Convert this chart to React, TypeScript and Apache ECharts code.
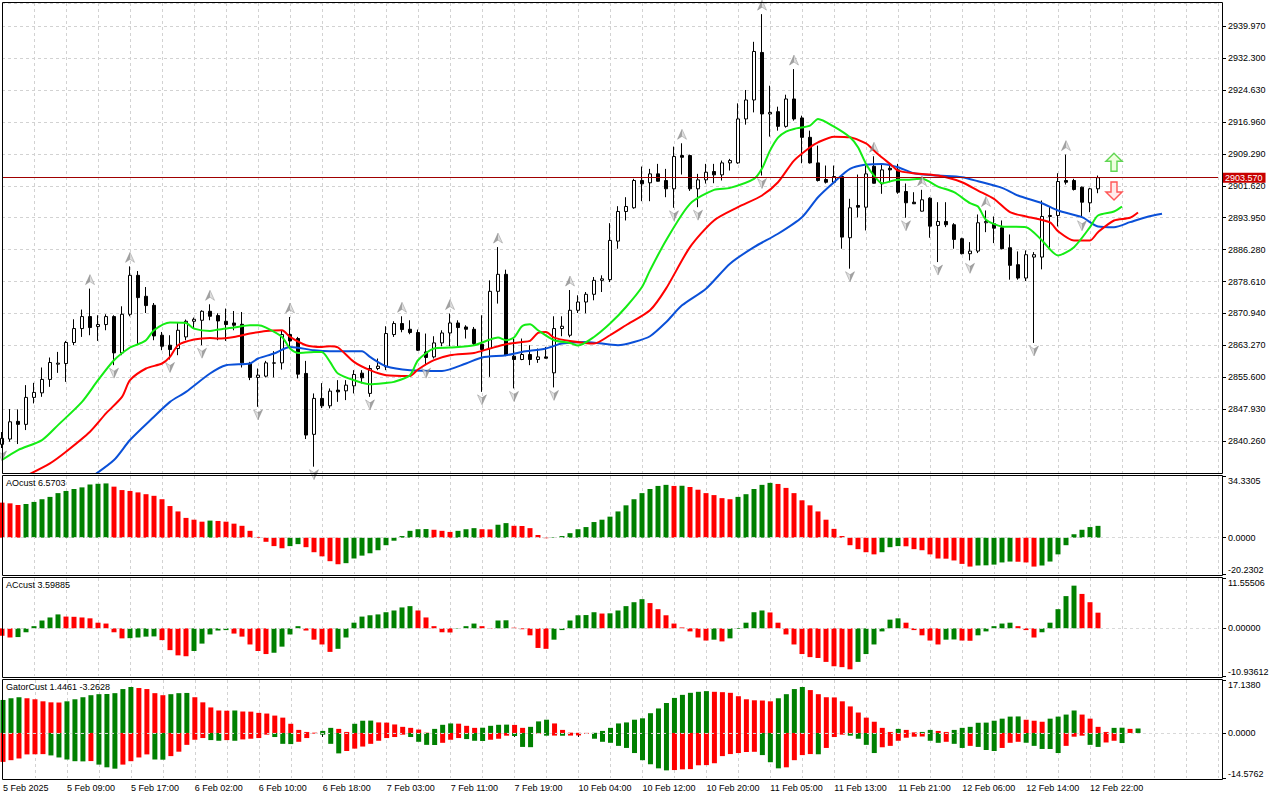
import React, { useEffect, useRef } from 'react';
import * as echarts from 'echarts';

// ---------- DATA ----------
const xLabels = [
  '5 Feb 2025', '5 Feb 09:00', '5 Feb 17:00', '6 Feb 02:00', '6 Feb 10:00', '6 Feb 18:00',
  '7 Feb 03:00', '7 Feb 11:00', '7 Feb 19:00', '10 Feb 04:00', '10 Feb 12:00', '10 Feb 20:00',
  '11 Feb 05:00', '11 Feb 13:00', '11 Feb 21:00', '12 Feb 06:00', '12 Feb 14:00', '12 Feb 22:00',
];
const slotCount = 153;
const labelStep = 8;

const opens = [
  2839.48, 2840.75, 2845.00, 2844.28, 2850.76, 2851.86, 2855.08, 2858.75, 2858.91, 2863.95,
  2867.31, 2870.19, 2867.79, 2868.27, 2870.19, 2861.46, 2870.74, 2880.10, 2875.06, 2872.90,
  2865.70, 2863.30, 2862.51, 2865.30, 2869.06, 2869.30, 2871.46, 2870.43, 2869.06, 2868.65,
  2868.34, 2858.91, 2855.56, 2855.87, 2858.99, 2859.06, 2865.87, 2864.91, 2856.52, 2841.88,
  2850.52, 2848.74, 2852.51, 2852.34, 2853.54, 2856.59, 2851.72, 2857.71, 2858.10, 2865.87,
  2868.51, 2867.14, 2866.35, 2861.70, 2860.50, 2863.86, 2866.25, 2868.65, 2867.69, 2867.14,
  2863.54, 2862.51, 2876.26, 2880.34, 2860.67, 2859.87, 2861.07, 2859.87, 2860.50, 2856.66,
  2867.31, 2865.70, 2871.70, 2873.69, 2875.54, 2878.90, 2879.07, 2888.33, 2895.45, 2896.34,
  2902.89, 2902.34, 2904.49, 2902.89, 2900.90, 2908.89, 2908.89, 2900.90, 2903.05, 2905.05,
  2904.25, 2907.13, 2907.13, 2917.69, 2922.25, 2933.67, 2918.89, 2919.44, 2915.91, 2922.49,
  2917.93, 2913.27, 2907.13, 2903.13, 2902.48, 2903.85, 2889.14, 2896.89, 2896.48, 2906.32,
  2902.10, 2905.84, 2905.45, 2900.25, 2897.68, 2895.52, 2898.64, 2892.09, 2893.05, 2892.26,
  2888.90, 2885.30, 2885.93, 2892.74, 2892.50, 2891.54, 2886.74, 2882.66, 2879.45, 2884.49,
  2884.49, 2894.25, 2894.49, 2902.89, 2902.89, 2901.28, 2897.54, 2900.90,
];
const highs = [
  2842.43, 2847.95, 2847.88, 2853.71, 2854.26, 2857.95, 2860.35, 2861.70, 2864.34, 2869.54,
  2871.87, 2876.91, 2870.50, 2870.74, 2870.50, 2872.66, 2882.26, 2881.13, 2877.29, 2873.45,
  2866.49, 2865.70, 2868.89, 2869.47, 2869.95, 2871.70, 2873.14, 2870.98, 2872.11, 2871.53,
  2871.29, 2859.30, 2857.71, 2859.54, 2861.87, 2866.90, 2870.09, 2865.30, 2859.54, 2851.72,
  2854.19, 2852.92, 2854.91, 2854.91, 2857.31, 2857.31, 2858.51, 2860.11, 2867.86, 2869.06,
  2870.26, 2869.30, 2867.07, 2866.11, 2865.46, 2866.90, 2870.91, 2869.30, 2868.10, 2867.69,
  2870.50, 2878.90, 2886.89, 2881.46, 2864.91, 2864.91, 2863.30, 2862.51, 2862.90, 2870.26,
  2870.26, 2876.57, 2875.30, 2876.09, 2879.69, 2880.10, 2892.64, 2896.72, 2898.88, 2903.30,
  2906.25, 2905.69, 2906.89, 2905.69, 2911.04, 2911.84, 2909.12, 2904.49, 2906.89, 2906.89,
  2907.69, 2908.09, 2921.43, 2924.65, 2936.23, 2942.88, 2925.68, 2920.64, 2923.52, 2929.68,
  2918.48, 2914.88, 2911.29, 2906.49, 2906.49, 2904.09, 2898.50, 2904.33, 2906.49, 2908.72,
  2906.89, 2907.04, 2906.89, 2902.17, 2900.08, 2900.66, 2898.88, 2897.68, 2897.68, 2892.64,
  2889.14, 2888.09, 2894.73, 2895.69, 2894.25, 2893.29, 2889.93, 2885.85, 2886.09, 2885.69,
  2898.09, 2896.65, 2904.64, 2909.12, 2903.30, 2901.45, 2901.14, 2904.09,
];
const lows = [
  2838.59, 2840.11, 2839.55, 2842.91, 2849.32, 2850.90, 2853.30, 2856.66, 2854.50, 2863.30,
  2865.30, 2865.70, 2864.34, 2866.90, 2858.51, 2860.91, 2870.26, 2863.54, 2871.05, 2864.50,
  2862.10, 2859.87, 2860.91, 2864.50, 2867.38, 2863.30, 2869.30, 2864.50, 2864.34, 2866.90,
  2857.95, 2854.91, 2848.50, 2855.56, 2855.56, 2857.47, 2862.90, 2855.32, 2840.75, 2834.11,
  2848.19, 2848.12, 2849.70, 2850.11, 2851.72, 2854.12, 2850.90, 2857.31, 2857.31, 2865.30,
  2866.42, 2865.94, 2861.94, 2858.51, 2860.11, 2863.06, 2863.06, 2863.06, 2864.91, 2863.30,
  2852.10, 2855.70, 2873.31, 2860.67, 2852.92, 2859.71, 2858.51, 2859.06, 2860.11, 2853.16,
  2865.46, 2865.22, 2871.05, 2870.98, 2874.10, 2876.09, 2878.49, 2886.50, 2893.29, 2896.10,
  2897.92, 2897.92, 2902.65, 2898.88, 2896.34, 2904.33, 2900.40, 2896.48, 2902.17, 2902.24,
  2902.89, 2905.29, 2906.90, 2916.32, 2919.27, 2904.09, 2913.44, 2914.88, 2915.60, 2917.28,
  2907.04, 2906.97, 2902.65, 2902.17, 2902.17, 2886.50, 2881.70, 2894.01, 2890.89, 2902.17,
  2899.70, 2902.48, 2899.70, 2893.94, 2897.25, 2895.45, 2889.14, 2883.29, 2891.69, 2886.50,
  2885.14, 2883.70, 2885.45, 2890.48, 2887.85, 2886.33, 2879.06, 2879.06, 2878.73, 2863.85,
  2881.54, 2886.74, 2891.85, 2901.93, 2900.49, 2893.94, 2895.28, 2899.84,
];
const closes = [
  2840.92, 2844.90, 2844.28, 2850.76, 2851.96, 2855.08, 2859.15, 2858.99, 2863.95, 2867.31,
  2870.19, 2867.55, 2868.27, 2870.19, 2861.46, 2870.74, 2880.10, 2874.75, 2872.83, 2865.53,
  2863.06, 2862.27, 2866.90, 2869.06, 2869.54, 2871.46, 2870.26, 2869.13, 2868.27, 2868.10,
  2859.06, 2855.56, 2856.11, 2859.06, 2859.06, 2865.87, 2864.34, 2856.35, 2841.71, 2850.52,
  2848.74, 2852.27, 2852.10, 2853.71, 2856.27, 2855.46, 2857.71, 2858.27, 2866.11, 2868.51,
  2867.07, 2866.35, 2862.10, 2860.35, 2863.86, 2866.25, 2868.65, 2867.55, 2867.14, 2863.71,
  2862.27, 2876.26, 2880.34, 2860.91, 2859.87, 2861.07, 2859.87, 2860.50, 2860.18, 2867.31,
  2867.86, 2871.70, 2873.69, 2875.54, 2878.90, 2879.26, 2888.49, 2895.45, 2896.65, 2902.89,
  2902.10, 2904.49, 2902.72, 2900.90, 2908.65, 2908.48, 2900.90, 2903.05, 2904.88, 2904.25,
  2907.13, 2907.69, 2917.69, 2922.25, 2933.91, 2918.89, 2919.27, 2915.91, 2922.49, 2917.69,
  2913.27, 2907.13, 2902.89, 2902.48, 2903.85, 2889.29, 2896.34, 2896.48, 2904.49, 2902.24,
  2905.45, 2905.45, 2900.08, 2897.54, 2897.30, 2898.26, 2891.92, 2893.05, 2892.26, 2888.73,
  2885.30, 2885.93, 2892.74, 2893.05, 2891.44, 2886.50, 2882.50, 2879.45, 2885.06, 2885.06,
  2894.25, 2894.49, 2902.65, 2902.48, 2900.73, 2897.68, 2900.90, 2903.57,
];

// Alligator lines [bar index, price]
const lipsLine = [
  [0, 2835.71], [2, 2838.11], [5, 2840.51], [7, 2844.10], [10, 2849.69], [12, 2854.90], [14, 2859.70],
  [16, 2862.75], [17, 2863.54], [18, 2864.50], [19, 2866.90], [21, 2868.74], [23, 2868.65], [24, 2867.30],
  [26, 2866.73], [27, 2867.07], [29, 2867.54], [31, 2868.10], [32, 2868.10], [33, 2867.54], [35, 2865.29],
  [36, 2862.51], [37, 2861.45], [39, 2861.69], [40, 2861.69], [41, 2859.29], [42, 2856.51], [44, 2854.90],
  [46, 2853.94], [48, 2854.25], [49, 2854.49], [51, 2856.10], [52, 2859.70], [54, 2862.51], [56, 2862.75],
  [59, 2863.30], [61, 2864.66], [62, 2865.14], [63, 2864.50], [64, 2865.14], [65, 2867.86], [66, 2868.34],
  [67, 2866.90], [69, 2864.50], [71, 2863.85], [72, 2863.23], [74, 2865.29], [76, 2868.50], [78, 2872.49],
  [80, 2877.29], [81, 2881.29], [83, 2888.49], [86, 2897.29], [89, 2900.65], [91, 2901.13], [94, 2903.29],
  [95, 2905.76], [96, 2910.08], [97, 2913.20], [98, 2914.64], [99, 2915.29], [101, 2916.08], [102, 2917.69],
  [104, 2915.84], [106, 2913.27], [107, 2910.87], [108, 2906.89], [109, 2904.08], [110, 2902.24],
  [112, 2903.05], [113, 2903.05], [115, 2903.29], [117, 2901.44], [119, 2900.08], [121, 2897.44],
  [122, 2896.65], [123, 2893.46], [125, 2891.85], [128, 2891.68], [130, 2888.49], [132, 2884.89],
  [134, 2886.88], [136, 2891.68], [137, 2894.49], [139, 2895.45], [140, 2896.65],
];
const teethLine = [
  [3, 2831.9], [6, 2834.91], [8, 2837.70], [11, 2842.50], [13, 2846.91], [15, 2850.89], [16, 2854.90],
  [18, 2857.71], [20, 2858.91], [21, 2860.49], [22, 2863.30], [24, 2864.66], [26, 2865.05], [27, 2864.91],
  [29, 2865.29], [31, 2866.10], [33, 2866.73], [35, 2866.90], [36, 2865.29], [38, 2863.30], [40, 2862.89],
  [41, 2863.06], [42, 2862.75], [44, 2859.29], [46, 2857.30], [48, 2856.10], [51, 2855.93], [52, 2857.47],
  [54, 2859.70], [56, 2860.90], [59, 2861.45], [61, 2862.51], [63, 2863.54], [65, 2864.09], [66, 2864.33],
  [67, 2866.25], [68, 2866.49], [69, 2865.14], [71, 2864.33], [74, 2863.71], [76, 2865.70], [78, 2868.10],
  [81, 2871.69], [83, 2876.90], [86, 2886.88], [89, 2893.29], [92, 2896.48], [95, 2899.29], [97, 2902.48],
  [99, 2907.68], [101, 2910.87], [102, 2912.07], [104, 2913.44], [106, 2913.27], [108, 2911.83],
  [109, 2910.1], [110, 2908.4], [111, 2906.89], [112, 2905.28], [114, 2904.64], [116, 2904.33],
  [118, 2903.68], [120, 2902.48], [122, 2900.48], [124, 2898.49], [126, 2895.28], [128, 2894.25],
  [131, 2892.81], [132, 2890.72], [134, 2888.49], [136, 2888.49], [137, 2890.48], [139, 2893.29],
  [141, 2893.94], [142, 2895.21],
];
const jawLine = [
  [11, 2831.4], [14, 2835.71], [16, 2840.51], [19, 2846.10], [21, 2849.69], [23, 2852.09], [26, 2856.51],
  [28, 2858.50], [31, 2858.91], [32, 2860.11], [34, 2861.31], [36, 2862.89], [39, 2862.10], [41, 2861.86],
  [45, 2861.86], [46, 2860.49], [48, 2858.26], [51, 2857.30], [55, 2857.13], [58, 2858.91], [60, 2860.35],
  [63, 2860.90], [65, 2861.69], [68, 2862.51], [70, 2863.71], [73, 2864.09], [77, 2863.30], [79, 2864.09],
  [81, 2865.46], [83, 2868.82], [85, 2872.89], [88, 2876.90], [91, 2882.90], [94, 2886.88], [97, 2890.10],
  [100, 2894.08], [102, 2898.88], [104, 2902.48], [106, 2905.69], [108, 2906.72], [110, 2906.89],
  [112, 2906.08], [114, 2904.64], [117, 2904.08], [120, 2903.68], [122, 2902.72], [125, 2901.13],
  [127, 2899.29], [130, 2897.44], [132, 2895.69], [135, 2894.08], [137, 2891.85], [139, 2891.68],
  [141, 2892.88], [143, 2894.08], [145, 2894.89],
];

const fractalUpIdx = [11, 16, 26, 36, 50, 56, 62, 71, 85, 95, 99, 109, 115, 123, 133];
const fractalDownIdx = [0, 14, 21, 25, 32, 39, 46, 53, 60, 64, 69, 84, 87, 95, 106, 113, 117, 121, 129, 135];
const signalUp = [[139, 2907.28]];
const signalDown = [[139, 2900.37]];

const aoValues = [
  19.5, 19.1, 18.2, 18.75, 19.9, 21.4, 22.7, 24.8, 26.0, 27.1,
  28.0, 29.6, 30.0, 30.2, 28.4, 26.5, 26.0, 25.2, 24.2, 23.3,
  21.4, 17.6, 14.6, 11.0, 10.0, 8.9, 9.5, 9.3, 8.9, 7.8,
  6.6, 3.8, 0.4, -2.3, -4.7, -5.9, -4.7, -3.6, -5.3, -8.1,
  -10.4, -13.1, -14.8, -14.2, -11.6, -10.0, -8.7, -7.0, -4.2, -1.7,
  0.9, 3.8, 4.7, 4.8, 4.4, 3.8, 3.2, 3.8, 4.7, 5.3,
  4.7, 4.6, 7.2, 8.1, 6.6, 6.5, 5.3, 1.5, -0.3, 0.3,
  0.9, 2.5, 4.7, 5.9, 8.7, 10.0, 11.7, 14.6, 18.0, 21.4,
  24.8, 27.1, 28.8, 29.4, 28.8, 28.9, 28.2, 26.7, 24.8, 23.7,
  22.0, 21.4, 22.7, 24.2, 27.1, 29.4, 30.5, 29.9, 27.7, 24.8,
  20.8, 18.0, 14.6, 10.0, 4.9, 0.9, -4.2, -6.4, -8.1, -9.3,
  -8.1, -5.3, -4.7, -4.8, -6.4, -7.0, -9.3, -11.6, -11.7, -12.7,
  -14.6, -16.1, -15.5, -15.4, -15.0, -13.8, -13.3, -13.4, -13.8, -16.1,
  -15.5, -13.3, -9.3, -4.2, 1.9, 4.4, 5.9, 6.5703,
];
const aoColors =
  'rrrggggggg' + 'ggggrrrrrr' + 'rrrrrrgrrr' + 'rrrrrrggrr' + 'rrrggggggg' +
  'ggggrrrggg' + 'rrggrrrrrg' + 'gggggggggg' + 'ggggrgrrrr' + 'rrgggggrrr' +
  'rrrrrrrrrr' + 'gggrrrrrrr' + 'rrgggggrrr' + 'gggggggg';

const acValues = [
  -1.7, -2.1, -2.0, -0.9, 0.5, 1.8, 2.5, 3.2, 2.7, 2.65,
  2.5, 2.3, 1.3, 1.1, -0.9, -2.3, -2.25, -2.1, -1.9, -1.85,
  -2.7, -5.0, -6.2, -6.4, -5.2, -3.5, -1.4, -0.5, -0.4, -1.2,
  -1.9, -3.7, -5.2, -5.9, -5.6, -4.2, -1.4, 0.5, -0.5, -2.6,
  -3.7, -5.4, -4.7, -2.1, 1.3, 2.7, 3.0, 3.2, 3.7, 4.1,
  4.8, 5.1, 4.1, 2.5, 0.5, -0.9, -0.95, -0.1, 0.5, 1.1,
  0.5, -0.1, 1.8, 1.85, 0.15, -0.2, -1.6, -4.5, -4.7, -2.6,
  -0.4, 1.8, 3.0, 3.05, 3.7, 3.4, 3.45, 4.1, 5.1, 6.0,
  6.7, 5.8, 4.4, 3.0, 1.1, 0.2, -0.7, -2.1, -2.8, -2.6,
  -3.0, -2.3, -0.15, 1.3, 3.7, 4.1, 3.65, 1.3, -1.4, -3.7,
  -5.9, -6.6, -6.8, -7.7, -8.7, -8.9, -9.4, -7.7, -5.9, -3.7,
  -0.7, 2.0, 2.3, 1.3, -0.4, -1.6, -2.8, -3.7, -2.6, -2.55,
  -2.8, -2.85, -1.6, -0.7, 0.5, 1.1, 1.3, 0.5, -0.4, -2.1,
  -0.9, 1.3, 4.4, 7.4, 9.8, 7.9, 6.0, 3.59885,
];
const acColors =
  'rrggggggrr' + 'rrrrrrgggg' + 'rrrrgggggr' + 'rrrrggggrr' + 'rrgggggggg' +
  'ggrrrrrggg' + 'rrggrrrrrg' + 'gggggrgggg' + 'grrrrrrrrg' + 'rgggggrrrr' +
  'rrrrrrrggg' + 'gggrrrrrgg' + 'rrgggggrrr' + 'gggggrrr';

const gatorUpper = [
  10.68, 11.23, 11.56, 11.23, 10.90, 10.24, 9.91, 9.85, 10.24, 10.90,
  11.56, 12.22, 12.55, 12.6, 12.88, 14.21, 14.87, 14.54, 14.21, 12.88,
  12.22, 12.55, 12.88, 12.95, 11.56, 9.91, 8.26, 7.27, 7.2, 7.27,
  6.94, 6.9, 6.50, 6.28, 5.62, 4.96, 2.97, 0.99, 0.33, 0.1,
  0.66, 1.65, 1.32, 0.33, 2.97, 3.96, 4.0, 3.41, 3.35, 2.75,
  1.98, 1.65, 1.10, 0.1, 1.32, 2.64, 3.08, 3.0, 2.31, 1.65,
  1.7, 2.31, 2.64, 2.7, 2.6, 1.65, 1.98, 3.74, 4.29, 3.08,
  0.99, 0.1, 0.05, 0.02, 0.05, 0.66, 1.65, 3.08, 3.41, 4.29,
  4.74, 6.39, 7.93, 9.69, 11.34, 12.33, 12.99, 13.32, 13.54, 13.32,
  13.2, 12.99, 11.89, 10.90, 10.57, 10.5, 10.24, 11.23, 12.55, 14.21,
  14.87, 13.88, 12.55, 11.56, 11.5, 10.24, 8.59, 6.61, 4.96, 3.63,
  1.65, 0.33, 1.32, 0.99, 0.2, 0.33, 0.99, 0.66, 0.33, 0.99,
  1.65, 1.98, 3.30, 3.35, 3.96, 4.63, 5.29, 5.35, 4.29, 3.96,
  3.63, 4.63, 5.29, 5.95, 7.27, 5.95, 4.63, 1.98, 0.33, 1.65,
  1.7, 1.32, 1.4461,
];
const gatorUpperColors =
  'gggrrrrrgg' + 'gggggggrrr' + 'rgggrrrrrg' + 'rrrrrrrrrr' + 'ggrrgggrrr' +
  'rrrrgggrrr' + 'ggggrrgggr' + 'rrrrgggggg' + 'gggggggggr' + 'rrrrrrrggg' +
  'grrrrrrrrr' + 'rrgrrggrrg' + 'ggggggggrr' + 'rggggrrrrg' + 'grg';

const gatorLower = [
  -9.36, -8.81, -8.26, -6.94, -6.9, -6.85, -7.27, -7.93, -8.59, -9.14,
  -9.2, -9.1, -10.24, -11.12, -11.56, -10.24, -9.14, -7.93, -6.94, -8.59,
  -8.65, -7.49, -6.06, -3.85, -2.20, -1.65, -2.31, -2.53, -2.31, -2.53,
  -2.09, -1.87, -1.65, -0.55, -1.32, -3.52, -3.6, -2.86, -1.65, -0.22,
  -0.55, -3.52, -6.61, -5.84, -5.07, -4.40, -3.52, -2.53, -1.65, -1.32,
  -0.55, -1.32, -2.86, -3.85, -3.9, -3.19, -2.20, -1.65, -1.98, -2.53,
  -2.6, -2.20, -1.87, -0.88, -0.99, -4.52, -4.6, -0.22, -0.88, -0.85,
  -0.9, -0.85, -0.8, -0.22, -1.87, -2.86, -3.19, -4.18, -4.85, -6.50,
  -8.81, -10.13, -11.45, -12.11, -12.0, -11.78, -11.7, -10.46, -10.4, -9.80,
  -7.49, -6.83, -6.50, -6.17, -6.1, -7.16, -9.47, -11.45, -11.12, -8.81,
  -7.16, -6.83, -6.9, -4.85, -1.32, -0.55, -0.88, -1.87, -3.85, -6.50,
  -4.63, -4.18, -2.53, -1.54, -1.21, -1.15, -2.53, -3.19, -2.86, -3.52,
  -4.85, -4.18, -4.52, -5.51, -5.84, -4.85, -3.19, -2.86, -3.19, -4.18,
  -5.18, -5.2, -6.50, -4.18, -1.21, -0.88, -3.85, -4.52, -3.08, -2.53,
  -3.2628,
];
const gatorLowerColors =
  'rrrrrrgggg' + 'grgggrrrrg' + 'grrrrrggrg' + 'rrrrgggrrr' + 'gggrrrrrrr' +
  'rggggrrrgg' + 'grrrgggrgr' + 'grrrgggggg' + 'ggggrrrrrr' + 'rrrrrgggrr' +
  'rrgrrrgggg' + 'rrrrrrggrg' + 'grgggrrrgg' + 'gggrrrggrrg';

const aoRange = [-20.2302, 34.3305];
const acRange = [-10.93612, 11.55506];
const gatorRange = [-14.5762, 17.138];

// ---------- STYLE ----------
const FONT = '"Liberation Sans", Arial, sans-serif';
const GREEN = '#008000';
const RED = '#ff0000';
const GRID_COLOR = '#d2d2d2';
const PRICE_MIN = 2832.59;
const PRICE_STEP = 7.67;
const PRICE_MAX = 2945.56;

const categories = Array.from({ length: slotCount }, (_, i) =>
  i % labelStep === 0 && i / labelStep < xLabels.length ? xLabels[i / labelStep] : ''
);
const lastLabelIdx = (xLabels.length - 1) * labelStep;

const grids = [
  { left: 2, top: 3, width: 1216, height: 470 },
  { left: 2, top: 476, width: 1216, height: 98 },
  { left: 2, top: 578, width: 1216, height: 98 },
  { left: 2, top: 680, width: 1216, height: 98 },
];

function makeX(gridIndex: number, showLabels: boolean) {
  return {
    type: 'category',
    gridIndex,
    data: categories,
    boundaryGap: false,
    axisLine: { show: false },
    axisTick: showLabels
      ? { show: true, length: 4, interval: (i: number) => i % labelStep === 0 && i <= lastLabelIdx, lineStyle: { color: '#000' } }
      : { show: false },
    axisLabel: showLabels
      ? { show: true, interval: (i: number) => i % labelStep === 0, align: 'left', margin: 5, fontSize: 9, color: '#000', fontFamily: FONT }
      : { show: false },
    splitLine: {
      show: true,
      interval: (i: number) => i % 4 === 0 && i > 0,
      lineStyle: { color: GRID_COLOR, type: [3, 3], width: 1 },
    },
  };
}

function makeSubY(gridIndex: number, range: number[], digits: number) {
  const [min, max] = range;
  const vals = [min, 0, max];
  const txt = { fontSize: 9, fontFamily: FONT, color: '#000' };
  return {
    type: 'value',
    gridIndex,
    position: 'right',
    offset: 4,
    min,
    max,
    axisLine: { show: false },
    axisTick: { show: true, length: 4, customValues: vals, lineStyle: { color: '#000' } },
    axisLabel: {
      show: true,
      customValues: vals,
      showMinLabel: true,
      showMaxLabel: true,
      margin: 6,
      ...txt,
      formatter: (v: number) => {
        const s = Number(v).toFixed(digits);
        if (Math.abs(v - max) < 1e-9) return `{t|${s}}`;
        if (Math.abs(v - min) < 1e-9) return `{b|${s}}`;
        return s;
      },
      rich: { t: { ...txt, padding: [9, 0, 0, 0] }, b: { ...txt, padding: [0, 0, 9, 0] } },
    },
    splitLine: { show: false },
  };
}

const zeroLine = {
  silent: true,
  symbol: ['none', 'none'],
  label: { show: false },
  lineStyle: { color: '#d8d8d8', type: [3, 3], width: 1 },
  data: [{ yAxis: 0 }],
};

function colored(values: number[], flags: string) {
  return values.map((v, i) => ({ value: v, itemStyle: { color: flags[i] === 'g' ? GREEN : RED } }));
}

function buildOption() {
  const lastClose = closes[closes.length - 1];
  const fractalFill = new echarts.graphic.LinearGradient(0, 0, 1, 0, [
    { offset: 0, color: '#8c8c8c' },
    { offset: 0.5, color: '#8c8c8c' },
    { offset: 0.5, color: '#d6d6d6' },
    { offset: 1, color: '#d6d6d6' },
  ]);
  const arrowHead = 'path://M5,0L10,10L5,7L0,10Z';
  const blockArrow = 'path://M8,0L16,8L11,8L11,18L5,18L5,8L0,8Z';
  const titleStyle = { fontSize: 9, fontWeight: 'normal', color: '#000', fontFamily: FONT };

  return {
    animation: false,
    backgroundColor: '#ffffff',
    textStyle: { fontFamily: FONT },
    title: [
      { text: `AOcust ${aoValues[aoValues.length - 1]}`, left: 6, top: 478, padding: 0, textStyle: titleStyle },
      { text: `ACcust ${acValues[acValues.length - 1]}`, left: 6, top: 580, padding: 0, textStyle: titleStyle },
      {
        text: `GatorCust ${gatorUpper[gatorUpper.length - 1]} ${gatorLower[gatorLower.length - 1]}`,
        left: 6, top: 682, padding: 0, textStyle: titleStyle,
      },
    ],
    grid: grids,
    xAxis: [makeX(0, false), makeX(1, false), makeX(2, false), makeX(3, true)],
    yAxis: [
      {
        type: 'value',
        gridIndex: 0,
        position: 'right',
        offset: 4,
        min: PRICE_MIN,
        max: PRICE_MAX,
        interval: PRICE_STEP,
        axisLine: { show: false },
        axisTick: { show: true, length: 4, lineStyle: { color: '#000' } },
        axisLabel: {
          showMinLabel: false,
          showMaxLabel: false,
          margin: 6,
          fontSize: 9,
          color: '#000',
          fontFamily: FONT,
          formatter: (v: number) => Number(v).toFixed(3),
        },
        splitLine: { show: true, lineStyle: { color: GRID_COLOR, type: [3, 3], width: 1 } },
      },
      makeSubY(1, aoRange, 4),
      makeSubY(2, acRange, 5),
      makeSubY(3, gatorRange, 4),
    ],
    series: [
      {
        type: 'candlestick',
        xAxisIndex: 0,
        yAxisIndex: 0,
        barWidth: 4,
        z: 3,
        data: opens.map((o, i) => [o, closes[i], lows[i], highs[i]]),
        itemStyle: { color: '#ffffff', color0: '#000000', borderColor: '#000000', borderColor0: '#000000', borderWidth: 1 },
        markLine: {
          silent: true,
          symbol: ['none', 'none'],
          lineStyle: { color: '#a00000', width: 1, type: 'solid' },
          label: {
            show: true,
            position: 'end',
            distance: 4,
            formatter: () => lastClose.toFixed(3),
            backgroundColor: '#c80000',
            color: '#ffffff',
            padding: [1, 3, 0, 3],
            fontSize: 9,
            fontFamily: FONT,
          },
          data: [{ yAxis: lastClose }],
        },
      },
      {
        type: 'line', xAxisIndex: 0, yAxisIndex: 0, data: jawLine, smooth: 0.25, symbol: 'none', z: 4,
        lineStyle: { color: '#0a50d8', width: 2 },
      },
      {
        type: 'line', xAxisIndex: 0, yAxisIndex: 0, data: teethLine, smooth: 0.25, symbol: 'none', z: 4,
        lineStyle: { color: '#ff0000', width: 2 },
      },
      {
        type: 'line', xAxisIndex: 0, yAxisIndex: 0, data: lipsLine, smooth: 0.25, symbol: 'none', z: 4,
        lineStyle: { color: '#14ec14', width: 2 },
      },
      {
        type: 'scatter', xAxisIndex: 0, yAxisIndex: 0, z: 5,
        data: fractalUpIdx.map((i) => [i, highs[i]]),
        symbol: arrowHead, symbolSize: [9, 10], symbolOffset: [0, -9],
        itemStyle: { color: fractalFill, borderColor: '#7a7a7a', borderWidth: 0.5 },
      },
      {
        type: 'scatter', xAxisIndex: 0, yAxisIndex: 0, z: 5,
        data: fractalDownIdx.map((i) => [i, lows[i]]),
        symbol: arrowHead, symbolSize: [9, 10], symbolOffset: [0, 8], symbolRotate: 180,
        itemStyle: { color: fractalFill, borderColor: '#7a7a7a', borderWidth: 0.5 },
      },
      {
        type: 'scatter', xAxisIndex: 0, yAxisIndex: 0, z: 5, data: signalUp,
        symbol: blockArrow, symbolSize: [16, 18],
        itemStyle: { color: '#eaffd6', borderColor: '#3ccc2c', borderWidth: 1.5 },
      },
      {
        type: 'scatter', xAxisIndex: 0, yAxisIndex: 0, z: 5, data: signalDown,
        symbol: blockArrow, symbolSize: [16, 18], symbolRotate: 180,
        itemStyle: { color: '#ffe6e6', borderColor: '#ff3030', borderWidth: 1.5 },
      },
      {
        type: 'bar', xAxisIndex: 1, yAxisIndex: 1, barWidth: 5,
        data: colored(aoValues, aoColors), markLine: zeroLine,
      },
      {
        type: 'bar', xAxisIndex: 2, yAxisIndex: 2, barWidth: 5,
        data: colored(acValues, acColors), markLine: zeroLine,
      },
      {
        type: 'bar', xAxisIndex: 3, yAxisIndex: 3, barWidth: 5, barGap: '-100%',
        data: colored(gatorUpper, gatorUpperColors),
      },
      {
        type: 'bar', xAxisIndex: 3, yAxisIndex: 3, barWidth: 5, barGap: '-100%',
        data: colored(gatorLower, gatorLowerColors), markLine: zeroLine,
      },
    ],
    graphic: [
      { type: 'rect', z: 100, silent: true, shape: { x: 2.5, y: 2.5, width: 1220, height: 471 }, style: { fill: 'none', stroke: '#000', lineWidth: 1 } },
      { type: 'rect', z: 100, silent: true, shape: { x: 2.5, y: 475.5, width: 1220, height: 100 }, style: { fill: 'none', stroke: '#000', lineWidth: 1 } },
      { type: 'rect', z: 100, silent: true, shape: { x: 2.5, y: 577.5, width: 1220, height: 100 }, style: { fill: 'none', stroke: '#000', lineWidth: 1 } },
      { type: 'rect', z: 100, silent: true, shape: { x: 2.5, y: 679.5, width: 1220, height: 100 }, style: { fill: 'none', stroke: '#000', lineWidth: 1 } },
    ],
  };
}

export default function App() {
  const ref = useRef<HTMLDivElement>(null);
  useEffect(() => {
    document.body.style.margin = '0';
    const chart = echarts.init(ref.current as HTMLDivElement, null, { renderer: 'svg' });
    chart.setOption(buildOption() as any);
    return () => chart.dispose();
  }, []);
  return <div ref={ref} style={{ width: 1280, height: 800, background: '#ffffff' }} />;
}
